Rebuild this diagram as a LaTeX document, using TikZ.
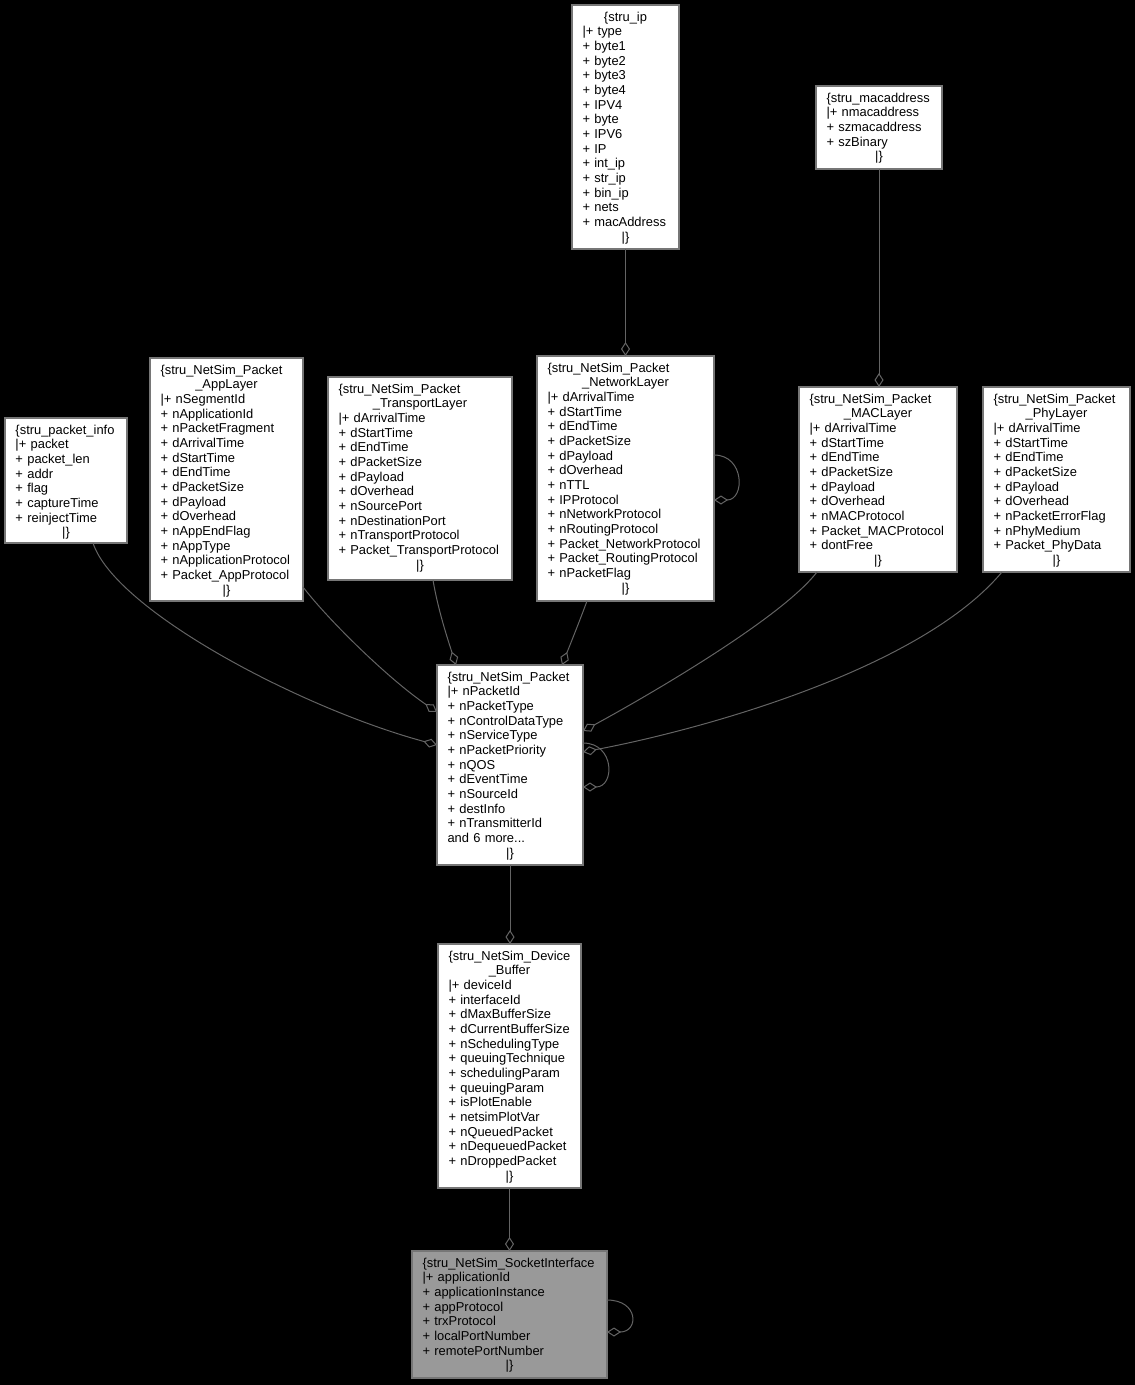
\documentclass[tikz,border=0pt]{standalone}
\usepackage{fontspec}
\setmainfont{Liberation Sans}
\usetikzlibrary{arrows.meta,calc}
\definecolor{edgec}{RGB}{100,100,100}
\definecolor{boxb}{RGB}{118,118,118}
\definecolor{sockf}{RGB}{153,153,153}
\newlength\bw
\newcommand\Ln[1]{\makebox[\bw][l]{#1}}
\newcommand\Lc[1]{\makebox[\bw][c]{#1}}
\newcommand\umlbox[7]{%
  \node[umlrect, fill=#6, minimum width=#4, minimum height=#5, anchor=north west] (#1) at (#2,#3) {};
  \setlength\bw{\dimexpr #4pt-21pt\relax}%
  \node[umltxt, text width=\bw, anchor=base west] at ($(#1.north west)+(10.5,16.2)$) {#7};
}
\begin{document}
\begin{tikzpicture}[x=1pt,y=-1pt,
  umlrect/.style={draw=boxb, line width=1.4pt, inner sep=0pt, outer sep=0pt},
  umltxt/.style={inner sep=0pt, outer sep=0pt, align=left, text=black,
     font=\fontsize{12.9}{14.67}\selectfont},
  agg/.style={draw=edgec, line width=1pt,
     -{Diamond[open, length=14pt, width=9pt, line width=1pt]}}]
\fill[black] (0,0) rectangle (1135,1385);
\useasboundingbox (0,0) rectangle (1135,1385);

\umlbox{ip}{572}{5}{107}{244}{white}{\Lc{\{stru\_ip}\\
\Ln{|+ type}\\ \Ln{+ byte1}\\ \Ln{+ byte2}\\ \Ln{+ byte3}\\ \Ln{+ byte4}\\
\Ln{+ IPV4}\\ \Ln{+ byte}\\ \Ln{+ IPV6}\\ \Ln{+ IP}\\ \Ln{+ int\_ip}\\
\Ln{+ str\_ip}\\ \Ln{+ bin\_ip}\\ \Ln{+ nets}\\ \Ln{+ macAddress}\\ \Lc{|\}}}

\umlbox{mac}{816}{86}{126}{83}{white}{\Ln{\{stru\_macaddress}\\
\Ln{|+ nmacaddress}\\ \Ln{+ szmacaddress}\\ \Ln{+ szBinary}\\ \Lc{|\}}}

\umlbox{pi}{5}{418}{122}{125}{white}{\Ln{\{stru\_packet\_info}\\
\Ln{|+ packet}\\ \Ln{+ packet\_len}\\ \Ln{+ addr}\\ \Ln{+ flag}\\
\Ln{+ captureTime}\\ \Ln{+ reinjectTime}\\ \Lc{|\}}}

\umlbox{al}{150}{358}{153}{243}{white}{\Ln{\{stru\_NetSim\_Packet}\\
\Lc{\_AppLayer}\\ \Ln{|+ nSegmentId}\\ \Ln{+ nApplicationId}\\
\Ln{+ nPacketFragment}\\ \Ln{+ dArrivalTime}\\ \Ln{+ dStartTime}\\
\Ln{+ dEndTime}\\ \Ln{+ dPacketSize}\\ \Ln{+ dPayload}\\ \Ln{+ dOverhead}\\
\Ln{+ nAppEndFlag}\\ \Ln{+ nAppType}\\ \Ln{+ nApplicationProtocol}\\
\Ln{+ Packet\_AppProtocol}\\ \Lc{|\}}}

\umlbox{tl}{328}{377}{184}{203}{white}{\Ln{\{stru\_NetSim\_Packet}\\
\Lc{\_TransportLayer}\\ \Ln{|+ dArrivalTime}\\ \Ln{+ dStartTime}\\
\Ln{+ dEndTime}\\ \Ln{+ dPacketSize}\\ \Ln{+ dPayload}\\ \Ln{+ dOverhead}\\
\Ln{+ nSourcePort}\\ \Ln{+ nDestinationPort}\\ \Ln{+ nTransportProtocol}\\
\Ln{+ Packet\_TransportProtocol}\\ \Lc{|\}}}

\umlbox{nl}{537}{356}{177}{245}{white}{\Ln{\{stru\_NetSim\_Packet}\\
\Lc{\_NetworkLayer}\\ \Ln{|+ dArrivalTime}\\ \Ln{+ dStartTime}\\
\Ln{+ dEndTime}\\ \Ln{+ dPacketSize}\\ \Ln{+ dPayload}\\ \Ln{+ dOverhead}\\
\Ln{+ nTTL}\\ \Ln{+ IPProtocol}\\ \Ln{+ nNetworkProtocol}\\
\Ln{+ nRoutingProtocol}\\ \Ln{+ Packet\_NetworkProtocol}\\
\Ln{+ Packet\_RoutingProtocol}\\ \Ln{+ nPacketFlag}\\ \Lc{|\}}}

\umlbox{ml}{799}{387}{158}{185}{white}{\Ln{\{stru\_NetSim\_Packet}\\
\Lc{\_MACLayer}\\ \Ln{|+ dArrivalTime}\\ \Ln{+ dStartTime}\\
\Ln{+ dEndTime}\\ \Ln{+ dPacketSize}\\ \Ln{+ dPayload}\\ \Ln{+ dOverhead}\\
\Ln{+ nMACProtocol}\\ \Ln{+ Packet\_MACProtocol}\\ \Ln{+ dontFree}\\ \Lc{|\}}}

\umlbox{phy}{983}{387}{147}{185}{white}{\Ln{\{stru\_NetSim\_Packet}\\
\Lc{\_PhyLayer}\\ \Ln{|+ dArrivalTime}\\ \Ln{+ dStartTime}\\
\Ln{+ dEndTime}\\ \Ln{+ dPacketSize}\\ \Ln{+ dPayload}\\ \Ln{+ dOverhead}\\
\Ln{+ nPacketErrorFlag}\\ \Ln{+ nPhyMedium}\\ \Ln{+ Packet\_PhyData}\\ \Lc{|\}}}

\umlbox{pk}{437}{665}{146}{200}{white}{\Ln{\{stru\_NetSim\_Packet}\\
\Ln{|+ nPacketId}\\ \Ln{+ nPacketType}\\ \Ln{+ nControlDataType}\\
\Ln{+ nServiceType}\\ \Ln{+ nPacketPriority}\\ \Ln{+ nQOS}\\
\Ln{+ dEventTime}\\ \Ln{+ nSourceId}\\ \Ln{+ destInfo}\\
\Ln{+ nTransmitterId}\\ \Ln{and 6 more...}\\ \Lc{|\}}}

\umlbox{db}{438}{944}{143}{244}{white}{\Ln{\{stru\_NetSim\_Device}\\
\Lc{\_Buffer}\\ \Ln{|+ deviceId}\\ \Ln{+ interfaceId}\\ \Ln{+ dMaxBufferSize}\\
\Ln{+ dCurrentBufferSize}\\ \Ln{+ nSchedulingType}\\ \Ln{+ queuingTechnique}\\
\Ln{+ schedulingParam}\\ \Ln{+ queuingParam}\\ \Ln{+ isPlotEnable}\\
\Ln{+ netsimPlotVar}\\ \Ln{+ nQueuedPacket}\\ \Ln{+ nDequeuedPacket}\\
\Ln{+ nDroppedPacket}\\ \Lc{|\}}}

\umlbox{si}{412}{1251}{195}{127}{sockf}{\Ln{\{stru\_NetSim\_SocketInterface}\\
\Ln{|+ applicationId}\\ \Ln{+ applicationInstance}\\ \Ln{+ appProtocol}\\
\Ln{+ trxProtocol}\\ \Ln{+ localPortNumber}\\ \Ln{+ remotePortNumber}\\ \Lc{|\}}}

% connectors
\draw[agg] (ip.south) -- (nl.north);
\draw[agg] (mac.south) -- (mac.south |- ml.north);
\draw[agg] ($(nl.north east)+(0,99)$) .. controls ($(nl.north east)+(31,99)$) and ($(nl.north east)+(31,144)$) .. ($(nl.north east)+(0,144)$);
\draw[agg] ($(pi.south west)+(88,0)$) .. controls ($(pi.south west)+(110,67)$) and ($(pk.north west)+(-137,43)$) .. ($(pk.north west)+(0,80)$);
\draw[agg] ($(al.south east)+(0,-14)$) .. controls ($(al.south east)+(27,21)$) and ($(pk.north west)+(-47,15)$) .. ($(pk.north west)+(0,47)$);
\draw[agg] ($(tl.south west)+(105,0)$) .. controls ($(tl.south west)+(110,30)$) and ($(pk.north west)+(11,-25)$) .. ($(pk.north west)+(19,0)$);
\draw[agg] ($(nl.south west)+(50,0)$) .. controls ($(nl.south west)+(43,19)$) and ($(pk.north west)+(133,-20)$) .. ($(pk.north west)+(125,0)$);
\draw[agg] ($(ml.south west)+(18,0)$) .. controls ($(ml.south west)+(-19,48)$) and ($(pk.north east)+(57,35)$) .. ($(pk.north east)+(0,66)$);
\draw[agg] ($(phy.south west)+(19,0)$) .. controls ($(phy.south west)+(-63,98)$) and ($(pk.north east)+(117,65)$) .. ($(pk.north east)+(0,87)$);
\draw[agg] ($(pk.north east)+(0,78)$) .. controls ($(pk.north east)+(32,78)$) and ($(pk.north east)+(32,122)$) .. ($(pk.north east)+(0,122)$);
\draw[agg] (pk.south) -- (pk.south |- db.north);
\draw[agg] (db.south) -- (db.south |- si.north);
\draw[agg] ($(si.north east)+(0,49)$) .. controls ($(si.north east)+(32,49)$) and ($(si.north east)+(32,81)$) .. ($(si.north east)+(0,81)$);
\end{tikzpicture}
\end{document}
